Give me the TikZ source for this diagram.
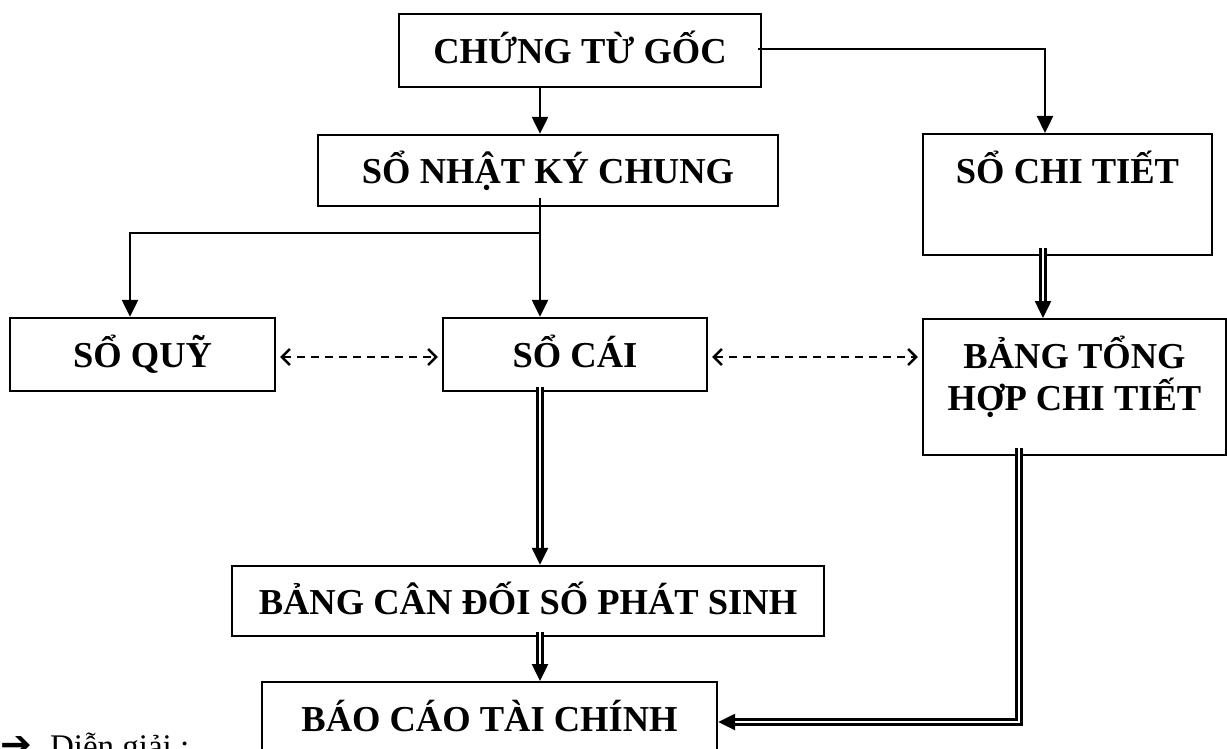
\documentclass[tikz,border=0pt]{standalone}
\usepackage{fontspec}
\setmainfont{Liberation Serif}
\newfontfamily\kyhieu{DejaVu Sans}
\usetikzlibrary{arrows.meta}

\begin{document}
\begin{tikzpicture}[x=1pt,y=-1pt,
	hop/.style={draw,line width=2.4pt,inner sep=0pt,text height=31pt,text depth=5pt,font=\fontsize{36.5}{42}\selectfont\bfseries},
	mui/.style={line width=2.4pt,-{Triangle[length=17pt,width=16pt]}},
	kep/.style={double,double distance=2.8pt,line width=2.5pt,-{Triangle[length=17pt,width=16pt]}},
	net/.style={line width=2.5pt,dash pattern=on 8pt off 6pt,{Straight Barb[length=8pt,width=16pt]}-{Straight Barb[length=8pt,width=16pt]}}]
		\useasboundingbox (0,0) rectangle (1227,749);
		% the boxes
		\node[hop,minimum width=362pt,minimum height=73pt] (ctg) at (580,50.5) {CHỨNG TỪ GỐC};
		\node[hop,minimum width=460pt,minimum height=71pt] (snkc) at (548,170.5) {SỔ NHẬT KÝ CHUNG};
		\node[hop,minimum width=289pt,text height=49pt,text depth=72pt,anchor=north] (sct) at (1067.5,133) {SỔ CHI TIẾT};
		\node[hop,minimum width=265pt,minimum height=73pt] (squy) at (142.5,354.5) {SỔ QUỸ};
		\node[hop,minimum width=264pt,minimum height=73pt] (scai) at (575,354.5) {SỔ CÁI};
		\node[hop,minimum width=303pt,text height=91pt,text depth=45pt,align=center,anchor=north] (bthct) at (1074.5,318) {BẢNG TỔNG\\HỢP CHI TIẾT};
		\node[hop,minimum width=592pt,minimum height=70pt] (bcdps) at (528,601) {BẢNG CÂN ĐỐI SỐ PHÁT SINH};
		\node[hop,minimum width=455pt,text height=49pt,text depth=30pt,anchor=north] (bctc) at (489.5,681) {BÁO CÁO TÀI CHÍNH};
		% single arrows
		\draw[mui] ([xshift=-40pt]ctg.south) -- ([xshift=-40pt]ctg.south |- snkc.north);
		\draw[mui] ([xshift=-4pt,yshift=1.5pt]ctg.east) -| ([xshift=-22.5pt]sct.north);
		\coordinate (tach) at (540,233);
		\draw[mui] ([xshift=-8pt,yshift=9pt]snkc.south) -- (tach) -- (tach |- scai.north);
		\draw[mui] (tach) -| ([xshift=-12.5pt]squy.north);
		% dashed two way arrows
		\draw[net] ([xshift=4pt,yshift=-2.5pt]squy.east) -- ([xshift=-4pt,yshift=-2.5pt]scai.west);
		\draw[net] ([xshift=4pt,yshift=-2.5pt]scai.east) -- ([xshift=-4pt,yshift=-2.5pt]scai.east -| bthct.west);
		% double arrows
		\draw[kep] ([xshift=-24.5pt,yshift=8pt]sct.south) -- ([xshift=-24.5pt]sct.south |- bthct.north);
		\draw[kep] ([xshift=-35pt,yshift=5pt]scai.south) -- ([xshift=-35pt]scai.south |- bcdps.north);
		\draw[kep] ([xshift=12pt,yshift=5pt]bcdps.south) -- ([xshift=12pt]bcdps.south |- bctc.north);
		\coordinate (goc) at (1019,722);
		\draw[kep] ([xshift=-55.5pt,yshift=8pt]bthct.south) -- (goc) -- (goc -| bctc.east);
		% note at the bottom
		\node[anchor=base west,inner sep=0pt,font=\fontsize{33}{38}\selectfont] (dg) at (0,757) {{\kyhieu\bfseries\fontsize{38}{38}\selectfont ➔}\hspace{18pt}Diễn giải :};
	\end{tikzpicture}
\end{document}
